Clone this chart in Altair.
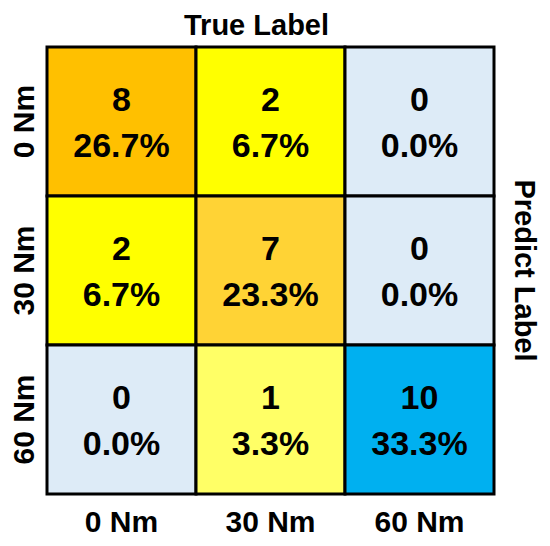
import altair as alt
import pandas as pd

labels = ["0 Nm", "30 Nm", "60 Nm"]
# rows = predicted label, columns = true label
counts = [[8, 2, 0],
          [2, 7, 0],
          [0, 1, 10]]
percents = [["26.7%", "6.7%", "0.0%"],
            ["6.7%", "23.3%", "0.0%"],
            ["0.0%", "3.3%", "33.3%"]]
cell_colors = [["#FFC000", "#FFFF00", "#DDEBF7"],
               ["#FFFF00", "#FFD335", "#DDEBF7"],
               ["#DDEBF7", "#FFFF66", "#00B0F0"]]

rows = []
for i, pred in enumerate(labels):
    for j, true in enumerate(labels):
        rows.append({
            "pred": pred,
            "true": true,
            "cell": f"{i}-{j}",
            "color": cell_colors[i][j],
            "txt": f"{counts[i][j]}\n{percents[i][j]}",
        })
df = pd.DataFrame(rows)

FONT = "Liberation Sans"
W = 447
H = 447

x_enc = alt.X("true:N", sort=labels,
              scale=alt.Scale(paddingInner=0, paddingOuter=0),
              axis=alt.Axis(orient="bottom", domain=False, ticks=False, tickSize=0,
                            labelAngle=0, labelFont=FONT, labelFontSize=30,
                            labelFontWeight="bold", labelColor="black",
                            labelBaseline="alphabetic", labelPadding=37,
                            title="True Label", titleFont=FONT, titleFontSize=29,
                            titleFontWeight="bold", titleColor="black",
                            titleAlign="center", titleBaseline="alphabetic",
                            titleX=209, titleY=-460, titleAngle=0))
y_enc = alt.Y("pred:N", sort=labels,
              scale=alt.Scale(paddingInner=0, paddingOuter=0),
              axis=alt.Axis(orient="left", domain=False, ticks=False, tickSize=0,
                            labelAngle=270, labelAlign="center",
                            labelBaseline="alphabetic", labelPadding=14,
                            labelFont=FONT, labelFontSize=30,
                            labelFontWeight="bold", labelColor="black",
                            title="Predict Label", titleFont=FONT, titleFontSize=29,
                            titleFontWeight="bold", titleColor="black",
                            titleAngle=90, titleAlign="center",
                            titleBaseline="middle", titleX=476, titleY=223))

base = alt.Chart(df).encode(x=x_enc, y=y_enc)

rects = base.mark_rect(stroke="black", strokeWidth=3).encode(
    color=alt.Color("cell:N",
                    scale=alt.Scale(domain=df["cell"].tolist(), range=df["color"].tolist()),
                    legend=None)
)

texts = base.mark_text(font=FONT, fontSize=34, fontWeight="bold", color="black",
                       lineBreak="\n", lineHeight=46, align="center",
                       baseline="middle", dy=-21).encode(text="txt:N")

chart = (rects + texts).properties(
    width=W, height=H,
    autosize=alt.AutoSizeParams(type="none"),
    padding={"left": 39, "top": 39, "right": 48, "bottom": 44},
    background="white",
).configure_view(strokeWidth=0)

chart.save("out.html", embed_options={"renderer": "svg", "actions": False})
